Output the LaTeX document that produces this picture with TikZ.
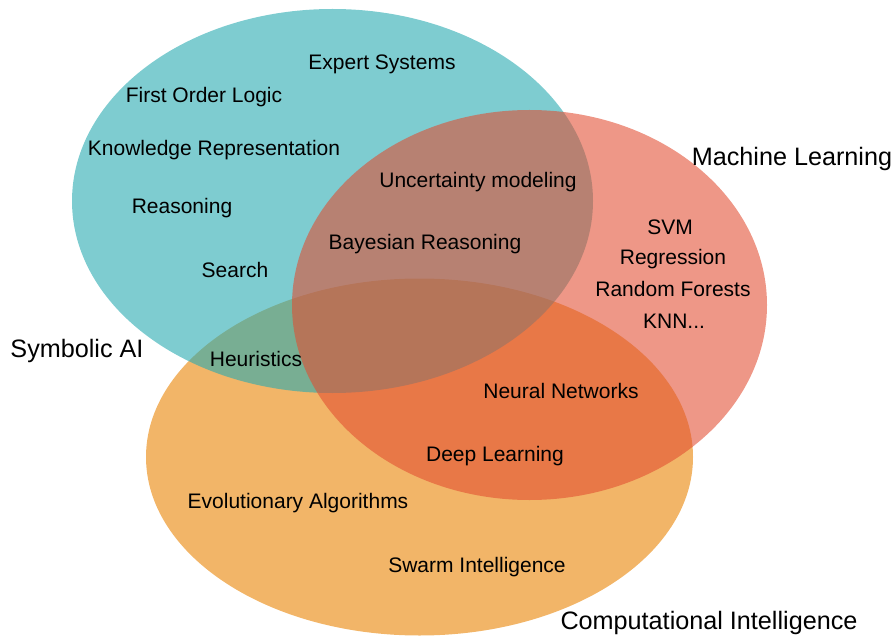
\documentclass[tikz,border=0pt]{standalone}
\usepackage{fontspec}
\setmainfont{Liberation Sans}
\definecolor{orangefill}{RGB}{242,181,104}
\definecolor{tealfill}{RGB}{40,170,177}
\definecolor{salmonfill}{RGB}{226,76,48}
\begin{document}
\begin{tikzpicture}[x=1bp,y=-1bp,
  inner/.style={anchor=base,inner sep=0pt,font=\fontsize{21bp}{25bp}\selectfont},
  outer/.style={anchor=base,inner sep=0pt,font=\fontsize{25.2bp}{30bp}\selectfont}]
\useasboundingbox (0,0) rectangle (896,637);
% the three sets
\fill[orangefill] (419.5,457) ellipse [x radius=273.5, y radius=178.5];
\fill[tealfill,opacity=0.6] (332.5,201) ellipse [x radius=260.5, y radius=192];
\fill[salmonfill,opacity=0.58] (529.5,305) ellipse [x radius=237.5, y radius=195];
% set labels
\node[outer] (ml) at (792,166) {Machine Learning};
\node[outer] (sym) at (77,357) {Symbolic AI};
\node[outer] (ci) at (709,629) {Computational Intelligence};
% symbolic AI topics
\node[inner] (es) at (382,70) {Expert Systems};
\node[inner] (fol) at (204,103) {First Order Logic};
\node[inner] (kr) at (214,156) {Knowledge Representation};
\node[inner] (rea) at (182,214) {Reasoning};
\node[inner] (sea) at (235,277) {Search};
\node[inner] (heu) at (256,366) {Heuristics};
% shared with machine learning
\node[inner] (unc) at (478,188) {Uncertainty modeling};
\node[inner] (bay) at (425,250) {Bayesian Reasoning};
% machine learning topics
\node[inner] (svm) at (670,235) {SVM};
\node[inner] (reg) at (673,265) {Regression};
\node[inner] (rf) at (673,296) {Random Forests};
\node[inner] (knn) at (674,328) {KNN...};
% computational intelligence topics
\node[inner] (nn) at (561,398) {Neural Networks};
\node[inner] (dl) at (495,461) {Deep Learning};
\node[inner] (ea) at (298,508) {Evolutionary Algorithms};
\node[inner] (si) at (477,572) {Swarm Intelligence};
\end{tikzpicture}
\end{document}
